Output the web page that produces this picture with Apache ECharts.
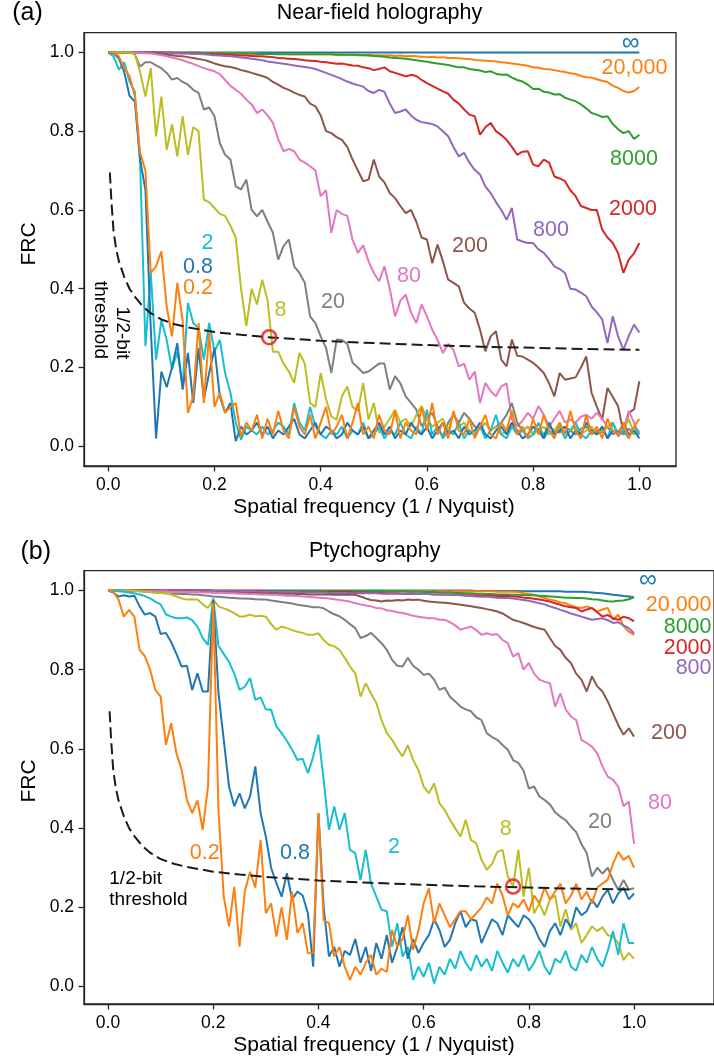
<!DOCTYPE html>
<html>
<head>
<meta charset="utf-8">
<script src="https://cdn.jsdelivr.net/npm/echarts@6/dist/echarts.min.js"></script>
<style>
html,body{margin:0;padding:0;background:#fff;}
#chart{width:714px;height:1063px;}
</style>
</head>
<body>
<div id="chart"></div>
<script>
// ---------- DATA (x grid: spatial frequency 0.00 .. 1.00, step 0.01) ----------
const FREQ = Array.from({length: 101}, (_, i) => +(i / 100).toFixed(2));
const SERIES_NAMES = ['∞', '20,000', '8000', '2000', '800', '200', '80', '20', '8', '2', '0.8', '0.2'];
const TICKS = [0, 0.2, 0.4, 0.6, 0.8, 1.0];

// (a) Near-field holography
const nfInf = [
1,1,1,1,1,1,1,1,1,1, 1,1,1,1,1,1,1,1,1,1, 1,1,1,1,1,1,1,1,1,1, 1,1,1,1,1,1,1,1,1,1,
1,1,1,1,1,1,1,1,1,1, 1,1,1,1,1,1,1,1,1,1, 1,1,1,1,1,1,1,1,1,1, 1,1,1,1,1,1,1,1,1,1,
1,1,1,1,1,1,1,1,1,1, 1,1,1,1,1,1,1,1,1,1, 1];
const nf20000 = [
1,1,1,1,1,1,1,1,1,1,
1,.999,.999,.999,.999,.999,.999,.999,.998,.998,
.998,.998,.998,.998,.997,.997,.997,.997,.997,.996,
.996,.996,.996,.996,.995,.995,.995,.995,.995,.995,
.995,.995,.995,.994,.995,.994,.994,.995,.993,.994,
.993,.993,.992,.993,.991,.992,.990,.991,.990,.989,
.988,.989,.987,.988,.986,.986,.985,.984,.983,.981,
.980,.979,.978,.977,.975,.974,.972,.970,.968,.966,
.962,.961,.958,.957,.955,.952,.950,.947,.945,.940,
.937,.936,.932,.928,.925,.915,.910,.902,.898,.902,
.912];
const nf8000 = [
1,1,1,1,1,1,1,1,1,1,
1,1,.999,.999,.999,.999,.999,.999,.998,.998,
.998,.998,.998,.997,.997,.997,.997,.997,.996,.996,
.996,.996,.995,.995,.995,.995,.995,.995,.995,.995,
.995,.995,.995,.994,.994,.994,.994,.993,.993,.992,
.991,.990,.989,.987,.986,.985,.984,.982,.980,.978,
.976,.974,.972,.970,.968,.965,.962,.962,.958,.956,
.954,.950,.952,.946,.943,.944,.936,.930,.926,.918,
.907,.908,.900,.898,.893,.894,.885,.880,.876,.868,
.858,.846,.842,.836,.838,.818,.805,.795,.800,.780,
.791];
const nf2000 = [
1,1,1,1,1,1,1,1,1,.999,
.999,.999,.999,.998,.998,.998,.997,.997,.996,.996,
.995,.995,.994,.994,.993,.992,.992,.991,.990,.990,
.989,.988,.986,.985,.984,.983,.982,.980,.979,.978,
.976,.975,.973,.971,.972,.969,.967,.966,.962,.960,
.955,.958,.962,.952,.948,.944,.939,.943,.940,.930,
.922,.915,.908,.901,.895,.880,.870,.855,.842,.838,
.791,.810,.821,.800,.790,.778,.760,.740,.748,.749,
.715,.711,.728,.720,.685,.680,.673,.650,.635,.610,
.605,.600,.600,.550,.530,.516,.490,.440,.474,.490,
.516];
const nf800 = [
1,1,1,1,1,1,1,1,1,.999,
.999,.999,.998,.998,.997,.997,.996,.996,.995,.994,
.993,.992,.991,.990,.989,.987,.986,.984,.982,.980,
.977,.975,.973,.971,.969,.967,.965,.963,.961,.958,
.953,.948,.943,.938,.932,.926,.921,.917,.913,.902,
.897,.905,.900,.870,.846,.850,.855,.840,.829,.823,
.821,.818,.812,.800,.787,.760,.736,.745,.720,.702,
.690,.660,.643,.620,.600,.575,.605,.525,.520,.516,
.516,.500,.491,.475,.457,.450,.440,.400,.398,.390,
.381,.355,.340,.322,.262,.330,.279,.245,.280,.309,
.289];
const nf200 = [
1,1,1,1,1,1,1,1,.999,.998,
.997,.994,.993,.991,.990,.988,.986,.983,.981,.977,
.972,.968,.965,.963,.960,.955,.952,.948,.944,.940,
.935,.925,.918,.910,.905,.898,.892,.888,.870,.863,
.840,.800,.795,.785,.778,.760,.728,.700,.673,.677,
.728,.685,.670,.643,.630,.610,.592,.600,.570,.530,
.525,.465,.512,.470,.423,.415,.406,.364,.350,.339,
.296,.241,.279,.292,.220,.203,.271,.230,.228,.220,
.212,.200,.186,.160,.127,.186,.169,.172,.175,.200,
.228,.136,.100,.068,.148,.125,.102,.034,.085,.094,
.165];
const nf80 = [
1,1,1,1,1,1,.999,.998,.997,.995,
.993,.990,.987,.984,.980,.975,.971,.965,.960,.956,
.952,.945,.930,.915,.905,.895,.880,.868,.846,.855,
.840,.821,.780,.749,.755,.749,.728,.720,.711,.700,
.635,.650,.542,.600,.590,.585,.525,.491,.510,.470,
.440,.419,.457,.400,.330,.370,.385,.340,.313,.360,
.330,.296,.270,.237,.260,.245,.203,.210,.169,.190,
.110,.161,.140,.127,.152,.160,.068,.051,.065,.085,
.070,.102,.080,.050,.070,.090,.060,.068,.060,.075,
.080,.070,.085,.070,.050,.060,.025,.040,.090,.060,
.030];
const nf20 = [
1,1,1,1,1,.995,.964,.975,.975,.967,
.960,.948,.931,.935,.925,.918,.905,.897,.855,.860,
.838,.770,.740,.728,.660,.652,.677,.600,.584,.600,
.570,.542,.474,.508,.525,.457,.440,.415,.330,.313,
.279,.250,.186,.271,.270,.260,.212,.200,.186,.190,
.200,.210,.210,.144,.178,.160,.127,.110,.093,.051,
.070,.085,.050,.025,.060,.080,.060,.085,.070,.050,
.045,.060,.040,.050,.060,.080,.110,.060,.040,.050,
.030,.045,.030,.050,.040,.035,.050,.040,.030,.045,
.050,.030,.040,.035,.050,.030,.040,.030,.045,.030,
.040];
const nf8 = [
1,1,1,1,1,.995,.950,.888,.960,.787,
.888,.753,.817,.736,.838,.740,.810,.800,.626,.620,
.605,.590,.585,.560,.530,.400,.305,.400,.360,.423,
.370,.240,.240,.210,.190,.161,.237,.210,.110,.100,
.186,.120,.076,.068,.127,.152,.100,.090,.161,.068,
.110,.034,.050,.070,.093,.060,.070,.050,.080,.102,
.070,.050,.060,.070,.040,.085,.050,.060,.040,.030,
.050,.060,.040,.050,.030,.040,.060,.030,.040,.050,
.030,.040,.050,.030,.040,.060,.030,.040,.050,.030,
.040,.050,.030,.040,.050,.060,.030,.040,.070,.030,
.040];
const nf2 = [
1,.990,.956,.975,.926,.900,.720,.254,.440,.220,
.320,.270,.195,.240,.152,.364,.313,.300,.220,.313,
.240,.270,.186,.136,.060,.017,.050,.040,.030,.050,
.030,.040,.060,.050,.030,.110,.060,.040,.100,.050,
.030,.020,.040,.030,.050,.020,.040,.030,.060,.020,
.030,.050,.020,.040,.030,.060,.030,.020,.050,.030,
.093,.030,.050,.020,.040,.030,.060,.020,.040,.030,
.050,.020,.040,.080,.030,.020,.050,.030,.040,.020,
.030,.060,.020,.040,.030,.050,.020,.040,.060,.030,
.020,.040,.030,.050,.020,.060,.030,.040,.020,.050,
.030];
const nf08 = [
1,.998,.985,.950,.890,.875,.728,.650,.300,.020,
.190,.150,.200,.262,.144,.237,.110,.250,.120,.186,
.250,.127,.085,.110,.013,.050,.030,.040,.060,.030,
.050,.020,.040,.030,.050,.070,.030,.020,.040,.060,
.030,.050,.040,.020,.030,.060,.040,.030,.050,.020,
.040,.060,.030,.050,.020,.040,.030,.060,.040,.030,
.050,.020,.040,.060,.030,.040,.020,.050,.030,.040,
.060,.030,.020,.040,.050,.030,.060,.040,.020,.030,
.050,.040,.020,.060,.030,.040,.050,.020,.040,.030,
.060,.040,.030,.050,.020,.040,.030,.060,.030,.040,
.020];
const nf02 = [
1,1,.990,.960,.940,.888,.745,.700,.440,.457,
.495,.355,.279,.415,.320,.085,.127,.313,.110,.288,
.100,.136,.085,.100,.110,.025,.060,.040,.080,.020,
.070,.030,.090,.040,.020,.100,.050,.030,.080,.020,
.060,.100,.030,.050,.080,.020,.060,.110,.030,.050,
.020,.080,.040,.030,.090,.020,.060,.040,.030,.100,
.040,.110,.030,.060,.020,.090,.040,.030,.070,.020,
.050,.080,.030,.020,.060,.040,.090,.030,.050,.020,
.070,.030,.080,.040,.020,.060,.030,.090,.040,.020,
.080,.030,.050,.020,.070,.040,.030,.060,.020,.050,
.070];

// (b) Ptychography
const ptInf = [
1,1,1,1,1,1,1,1,1,1, 1,1,1,1,1,1,1,1,1,1, 1,1,1,1,1,1,1,1,1,1, 1,1,1,1,1,1,1,1,1,1,
1,1,1,1,1,1,1,1,1,1, 1,1,1,1,1,1,1,1,1,1, 1,1,1,1,1,1,1,1,1,1,
.999,.999,.999,.999,.999,.999,.999,.999,.999,.998,
.998,.998,.998,.998,.998,.998,.998,.997,.997,.997,
.997,.996,.995,.994,.993,.991,.989,.988,.986,.985,
.983];
const pt20000 = [
1,1,1,1,1,1,1,1,1,1, 1,1,1,1,1,1,1,1,1,1, 1,1,1,1,1,1,1,1,1,1,
.999,.999,.999,.999,.999,.999,.999,.999,.999,.999,
.999,.999,.999,.999,.999,.999,.999,.999,.999,.999,
.999,.999,.999,.999,.999,.998,.998,.998,.998,.998,
.998,.998,.998,.998,.998,.998,.998,.998,.998,.998,
.998,.998,.998,.998,.997,.997,.997,.997,.996,.993,
.991,.989,.985,.981,.977,.974,.970,.968,.962,.958,
.956,.960,.955,.947,.952,.956,.926,.939,.910,.896,
.888];
const pt8000 = [
1,1,1,1,1,1,1,1,1,1, 1,1,1,1,1,1,1,1,1,1,
.999,.999,.999,.999,.999,.999,.999,.999,.999,.999,
.999,.999,.999,.999,.999,.999,.999,.999,.999,.999,
.999,.999,.999,.999,.999,.999,.999,.999,.999,.999,
.999,.999,.999,.998,.998,.998,.998,.997,.997,.997,
.996,.996,.996,.995,.995,.995,.994,.994,.993,.993,
.992,.992,.991,.991,.990,.990,.990,.989,.989,.988,
.988,.988,.987,.986,.985,.984,.983,.982,.982,.981,
.981,.980,.978,.977,.975,.973,.972,.974,.975,.978,
.983];
const pt2000 = [
1,1,1,1,1,1,1,1,1,1, 1,1,1,1,1,1,1,1,1,1,
.999,.999,.999,.999,.998,.998,.998,.998,.998,.998,
.998,.997,.997,.997,.997,.997,.997,.996,.996,.996,
.996,.996,.996,.996,.996,.996,.996,.995,.995,.995,
.994,.994,.994,.993,.993,.993,.992,.992,.992,.991,
.991,.991,.990,.990,.990,.989,.989,.989,.988,.988,
.988,.987,.987,.987,.986,.986,.986,.985,.984,.982,
.981,.979,.977,.975,.972,.968,.964,.960,.958,.956,
.947,.952,.956,.945,.934,.938,.930,.926,.934,.930,
.922];
const pt800 = [
1,1,1,1,1,1,1,1,1,1, 1,1,1,1,1,1,1,1,1,1,
.999,.999,.999,.999,.998,.998,.998,.998,.998,.997,
.997,.997,.997,.996,.996,.996,.996,.995,.995,.995,
.995,.995,.994,.994,.994,.994,.993,.993,.993,.993,
.993,.993,.992,.992,.992,.992,.992,.991,.991,.991,
.991,.991,.990,.990,.990,.990,.989,.988,.987,.986,
.985,.984,.984,.983,.982,.981,.981,.980,.978,.976,
.974,.971,.968,.965,.960,.956,.951,.947,.942,.938,
.934,.930,.926,.928,.930,.925,.918,.920,.912,.905,
.892];
const pt200 = [
1,1,1,1,1,1,1,1,1,1,
.999,.999,.999,.998,.998,.998,.997,.997,.996,.996,
.995,.995,.995,.995,.995,.994,.994,.994,.994,.993,
.993,.993,.993,.992,.992,.992,.991,.991,.990,.990,
.990,.990,.990,.989,.989,.989,.989,.989,.985,.980,
.976,.975,.972,.975,.974,.976,.975,.977,.976,.977,
.974,.972,.971,.970,.969,.968,.966,.964,.962,.960,
.958,.956,.953,.950,.947,.942,.934,.926,.922,.918,
.913,.908,.904,.901,.880,.860,.850,.830,.817,.790,
.775,.745,.783,.758,.745,.720,.690,.660,.636,.652,
.631];
const pt80 = [
1,1,1,1,1,1,.999,.999,.999,.998,
.998,.998,.997,.997,.997,.996,.996,.996,.995,.995,
.995,.994,.994,.993,.993,.992,.992,.991,.991,.990,
.990,.989,.989,.988,.987,.987,.986,.985,.984,.983,
.982,.981,.980,.978,.976,.974,.972,.968,.965,.962,
.960,.956,.955,.950,.948,.945,.943,.940,.936,.934,
.932,.930,.930,.926,.926,.920,.912,.901,.905,.909,
.900,.888,.892,.888,.890,.875,.867,.833,.842,.800,
.817,.790,.775,.770,.766,.707,.740,.700,.682,.673,
.623,.615,.606,.589,.556,.530,.522,.505,.455,.467,
.360];
const pt20 = [
1,1,1,1,1,1,.998,.997,.996,.995,
.994,.993,.992,.992,.991,.991,.990,.990,.988,.987,
.985,.984,.983,.982,.981,.980,.980,.979,.978,.977,
.977,.975,.973,.971,.969,.967,.964,.962,.960,.958,
.958,.955,.947,.940,.935,.926,.915,.905,.880,.885,
.893,.880,.867,.850,.825,.810,.808,.830,.810,.800,
.787,.790,.775,.749,.755,.732,.720,.707,.700,.695,
.680,.673,.640,.630,.623,.610,.598,.572,.565,.545,
.500,.505,.480,.471,.460,.440,.429,.420,.404,.390,
.360,.337,.278,.300,.285,.300,.269,.244,.269,.245,
.248];
const pt8 = [
1,1,1,1,1,.999,.998,.997,.996,.995,
.994,.993,.990,.985,.980,.977,.978,.977,.965,.956,
.977,.960,.955,.950,.943,.934,.935,.939,.935,.936,
.934,.915,.901,.909,.905,.900,.896,.893,.888,.888,
.892,.875,.863,.859,.850,.830,.808,.791,.732,.766,
.740,.716,.673,.640,.623,.600,.581,.610,.572,.547,
.505,.488,.513,.463,.446,.421,.400,.379,.421,.370,
.362,.320,.295,.310,.340,.345,.278,.253,.345,.227,
.300,.185,.210,.180,.220,.230,.152,.195,.143,.160,
.110,.130,.152,.140,.150,.130,.126,.110,.067,.085,
.070];
const pt2 = [
1,.999,.998,.997,.995,.993,.990,.986,.980,.972,
.965,.940,.934,.930,.930,.932,.925,.909,.880,.863,
.981,.860,.840,.820,.790,.749,.757,.779,.724,.730,
.700,.699,.657,.640,.620,.598,.572,.575,.539,.580,
.636,.520,.396,.455,.396,.438,.345,.337,.269,.345,
.260,.227,.194,.190,.101,.160,.076,.100,.017,.050,
.025,.060,.008,.050,.030,.070,.045,.090,.060,.040,
.080,.050,.070,.040,.090,.060,.035,.070,.050,.080,
.040,.060,.090,.050,.030,.070,.060,.090,.050,.040,
.080,.060,.100,.070,.050,.090,.140,.080,.160,.110,
.110];
const pt08 = [
1,.995,.985,.988,.985,.987,.960,.939,.943,.934,
.890,.893,.870,.840,.808,.810,.749,.791,.745,.745,
.976,.740,.623,.505,.455,.488,.450,.480,.556,.438,
.379,.300,.261,.227,.286,.220,.240,.230,.185,.050,
.438,.200,.076,.100,.050,.090,.080,.120,.060,.100,
.040,.110,.070,.130,.060,.100,.150,.070,.120,.085,
.110,.130,.170,.143,.100,.118,.160,.190,.150,.170,
.166,.110,.140,.170,.160,.130,.180,.165,.150,.180,
.170,.150,.120,.100,.140,.160,.130,.170,.150,.200,
.180,.190,.220,.200,.227,.244,.210,.235,.250,.220,
.235];
const pt02 = [
1,.997,.977,.934,.951,.934,.850,.834,.800,.749,
.732,.610,.665,.589,.547,.471,.438,.470,.396,.505,
.968,.446,.227,.152,.252,.101,.240,.290,.250,.370,
.185,.210,.126,.200,.118,.240,.135,.160,.084,.085,
.438,.168,.160,.076,.100,.050,.017,.050,.030,.060,
.080,.030,.045,.037,.143,.100,.120,.180,.093,.140,
.210,.248,.160,.210,.180,.150,.170,.190,.190,.170,
.185,.200,.225,.210,.260,.230,.180,.210,.200,.220,
.190,.230,.210,.250,.220,.240,.260,.210,.230,.260,
.220,.240,.210,.250,.260,.270,.310,.340,.320,.330,
.300];

// 1/2-bit threshold
const thrX = [0.003,0.006,0.01,0.015,0.02,0.03,0.04,0.05,0.065,0.08,0.1,0.125,0.15,0.2,0.25,0.3,0.4,0.5,0.6,0.7,0.8,0.9,1.0];
const thrY = [0.695,0.62,0.545,0.50,0.47,0.43,0.40,0.38,0.355,0.338,0.322,0.31,0.302,0.29,0.283,0.277,0.268,0.262,0.257,0.253,0.25,0.247,0.245];

// crossing markers
const nfCross = [0.303, 0.277];
const ptCross = [0.770, 0.2525];

// ---------- CHART ----------
const COLORS = ['#1f77b4','#ff7f0e','#2ca02c','#d62728','#9467bd','#8c564b','#e377c2','#7f7f7f','#bcbd22','#17becf','#1f77b4','#ff7f0e'];
const FONT = "'Liberation Sans', Arial, Helvetica, sans-serif";
const AX = '#262626';

const nfSets = [nfInf, nf20000, nf8000, nf2000, nf800, nf200, nf80, nf20, nf8, nf2, nf08, nf02];
const ptSets = [ptInf, pt20000, pt8000, pt2000, pt800, pt200, pt80, pt20, pt8, pt2, pt08, pt02];

function pairs(ys) { return ys.map((y, i) => [FREQ[i], y]); }
const thrPairs = thrX.map((x, i) => [x, thrY[i]]);

function curveSeries(sets, idx) {
  return sets.map((ys, k) => ({
    type: 'line', name: SERIES_NAMES[k], xAxisIndex: idx, yAxisIndex: idx,
    data: pairs(ys), showSymbol: false, symbol: 'none', silent: true,
    lineStyle: {color: COLORS[k], width: 2}, itemStyle: {color: COLORS[k]},
    animation: false, z: 2
  }));
}

function xAxisDef(idx, max) {
  return {
    type: 'value', gridIndex: idx, min: -0.0457, max: max,
    axisLine: {show: true, onZero: false, lineStyle: {color: AX, width: 1.3}},
    axisTick: {show: true, length: 5.5, inside: false, customValues: TICKS, lineStyle: {color: AX, width: 1.3}},
    axisLabel: {show: true, customValues: TICKS, margin: 10, fontSize: 17.5, fontFamily: FONT, color: '#000',
      formatter: v => v.toFixed(1)},
    splitLine: {show: false}
  };
}
function yAxisDef(idx, min) {
  return {
    type: 'value', gridIndex: idx, min: min, max: 1.05,
    axisLine: {show: true, onZero: false, lineStyle: {color: AX, width: 1.3}},
    axisTick: {show: true, length: 5.5, inside: false, customValues: TICKS, lineStyle: {color: AX, width: 1.3}},
    axisLabel: {show: true, customValues: TICKS, margin: 10, fontSize: 17.5, fontFamily: FONT, color: '#000',
      formatter: v => v.toFixed(1)},
    splitLine: {show: false}
  };
}

function txt(text, x, y, color, size, align, rot) {
  return {
    type: 'text', x: x, y: y, rotation: rot || 0, silent: true, z: 10,
    style: {text: text, x: 0, y: 0, fill: color, fontSize: size, fontFamily: FONT,
      align: align || 'center', verticalAlign: 'middle', textAlign: align || 'center', textVerticalAlign: 'middle'}
  };
}

const LS = 21.5;
const graphics = [
  txt('(a)', 27.5, 13.5, '#000', 25),
  txt('Near-field holography', 379.5, 13.5, '#000', 21.5),
  txt('FRC', 29.3, 244, '#000', 21, 'center', Math.PI / 2),
  txt('Spatial frequency (1 / Nyquist)', 374, 507.7, '#000', 21),
  txt('∞', 630.7, 43.3, COLORS[0], 25),
  txt('20,000', 634.5, 68.3, COLORS[1], LS),
  txt('8000', 634, 159.3, COLORS[2], LS),
  txt('2000', 633, 209.3, COLORS[3], LS),
  txt('800', 551, 230, COLORS[4], LS),
  txt('200', 470, 246.5, COLORS[5], LS),
  txt('80', 409, 276, COLORS[6], LS),
  txt('20', 333, 301.7, COLORS[7], LS),
  txt('8', 280.5, 310.5, COLORS[8], LS),
  txt('2', 207.5, 243.5, COLORS[9], LS),
  txt('0.8', 198, 266.7, COLORS[10], LS),
  txt('0.2', 198, 288, COLORS[11], LS),
  txt('1/2-bit', 122.5, 333, '#000', 19, 'center', -Math.PI / 2),
  txt('threshold', 100, 320, '#000', 19, 'center', -Math.PI / 2),

  txt('(b)', 35.8, 551.7, '#000', 25),
  txt('Ptychography', 374.7, 550.7, '#000', 21.5),
  txt('FRC', 29.3, 781, '#000', 21, 'center', Math.PI / 2),
  txt('Spatial frequency (1 / Nyquist)', 374, 1045, '#000', 21),
  txt('∞', 648, 580, COLORS[0], 25),
  txt('20,000', 711.5, 605, COLORS[1], LS, 'right'),
  txt('8000', 711.5, 627.3, COLORS[2], LS, 'right'),
  txt('2000', 711.5, 647.7, COLORS[3], LS, 'right'),
  txt('800', 711.5, 668.3, COLORS[4], LS, 'right'),
  txt('200', 669, 733.3, COLORS[5], LS),
  txt('80', 660, 803.3, COLORS[6], LS),
  txt('20', 600, 821.7, COLORS[7], LS),
  txt('8', 505.7, 829.3, COLORS[8], LS),
  txt('2', 394, 847.3, COLORS[9], LS),
  txt('0.8', 295, 853.3, COLORS[10], LS),
  txt('0.2', 204.7, 853.3, COLORS[11], LS),
  txt('1/2-bit', 109.3, 878.3, '#000', 19, 'left'),
  txt('threshold', 109.3, 900, '#000', 19, 'left')
];

function extraSeries(idx, cross) {
  return [
    {type: 'line', xAxisIndex: idx, yAxisIndex: idx, data: thrPairs, showSymbol: false, symbol: 'none', silent: true,
     lineStyle: {color: '#1a1a1a', width: 2, type: [11, 5]}, animation: false, z: 3},
    {type: 'scatter', xAxisIndex: idx, yAxisIndex: idx, data: [cross], symbol: 'circle', symbolSize: 14, silent: true,
     itemStyle: {color: 'rgba(0,0,0,0)', borderColor: '#e8141c', borderWidth: 2.6}, animation: false, z: 4}
  ];
}

const chart = echarts.init(document.getElementById('chart'), null, {renderer: 'canvas', width: 714, height: 1063});
chart.setOption({
  animation: false,
  backgroundColor: '#fff',
  grid: [
    {left: 84, top: 32.7, width: 592, height: 433.3, show: true, borderColor: AX, borderWidth: 1.3, backgroundColor: 'transparent', containLabel: false},
    {left: 84, top: 570.7, width: 636, height: 433.3, show: true, borderColor: AX, borderWidth: 1.3, backgroundColor: 'transparent', containLabel: false}
  ],
  xAxis: [xAxisDef(0, 1.069), xAxisDef(1, 1.152)],
  yAxis: [yAxisDef(0, -0.05), yAxisDef(1, -0.044)],
  series: [].concat(curveSeries(nfSets, 0), extraSeries(0, nfCross), curveSeries(ptSets, 1), extraSeries(1, ptCross)),
  graphic: graphics
});
</script>
</body>
</html>
